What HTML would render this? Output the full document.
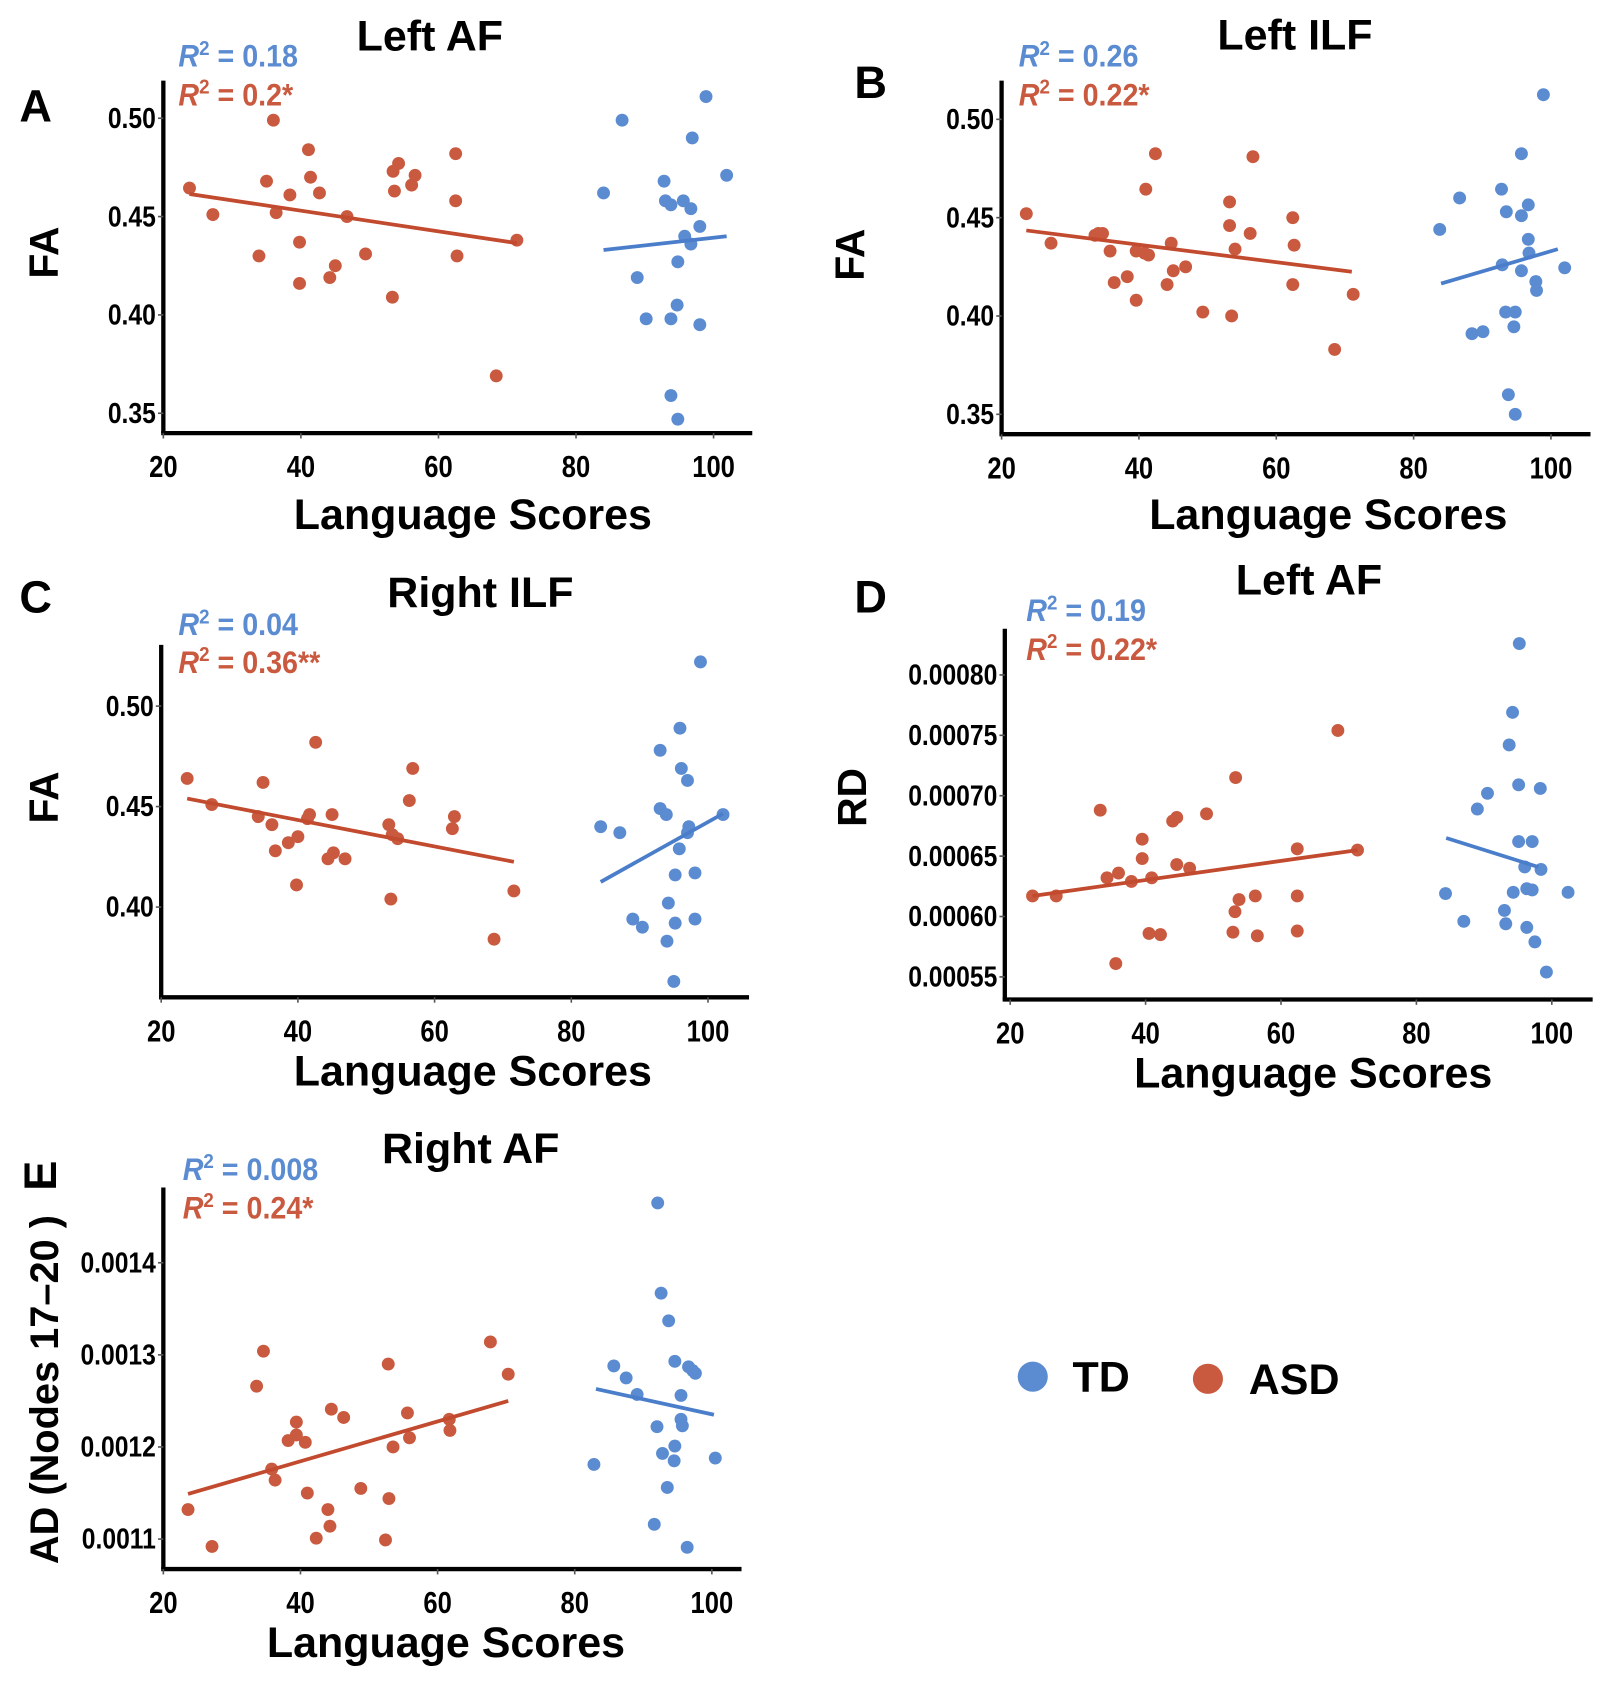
<!DOCTYPE html>
<html><head><meta charset="utf-8"><style>
html,body{margin:0;padding:0;background:#fff;}
svg{display:block;}
text{font-family:"Liberation Sans",sans-serif;font-weight:bold;}
</style></head><body>
<svg id="fig" width="1612" height="1683" viewBox="0 0 1500 1566" xmlns="http://www.w3.org/2000/svg"></svg>
<script>
// ---- Panel A: Left AF FA ----
const aAsdX=[23.8,27.2,33.9,35,36,36.4,38.4,39.8,39.8,41.1,41.4,42.7,44.2,45,46.7,49.4,53.3,53.4,53.6,54.2,56.1,56.6,62.5,62.5,62.7,68.4,71.4];
const aAsdY=[0.4645,0.451,0.430,0.468,0.499,0.452,0.461,0.437,0.416,0.484,0.470,0.462,0.419,0.425,0.450,0.431,0.409,0.473,0.463,0.477,0.466,0.471,0.482,0.458,0.430,0.369,0.438];
const aTdX=[84,86.7,88.9,90.2,92.8,93,93.8,93.8,93.8,94.8,94.8,94.7,95.6,95.8,96.7,96.9,96.7,98,98,98.9,101.9];
const aTdY=[0.462,0.499,0.419,0.398,0.468,0.458,0.456,0.398,0.359,0.347,0.427,0.405,0.458,0.440,0.454,0.490,0.436,0.445,0.395,0.511,0.471];
const aAsdFit=[23.8,0.4615,71.4,0.4365];
const aTdFit=[84,0.433,101.9,0.440];
// ---- Panel B: Left ILF FA ----
const bAsdX=[23.6,27.2,33.6,34.1,34.7,35.8,36.4,38.3,39.6,39.6,40.8,41.4,41,42.4,44.7,44.1,45,46.8,49.3,53.2,53.2,53.5,54,56.2,56.6,62.4,62.6,62.4,68.5,71.2];
const bAsdY=[0.452,0.437,0.441,0.442,0.442,0.433,0.417,0.420,0.433,0.408,0.432,0.431,0.4645,0.4825,0.437,0.416,0.423,0.425,0.402,0.458,0.446,0.400,0.434,0.442,0.481,0.450,0.436,0.416,0.383,0.411];
const bTdX=[83.8,86.7,88.5,90.1,92.8,92.9,93.5,93.4,93.8,94.8,94.6,94.8,95.7,95.7,95.7,96.7,96.7,96.8,97.8,97.9,98.9,102];
const bTdY=[0.444,0.460,0.391,0.392,0.4645,0.426,0.453,0.402,0.360,0.350,0.3945,0.402,0.4825,0.451,0.423,0.4565,0.439,0.432,0.4175,0.413,0.5125,0.4245];
const bAsdFit=[23.6,0.4435,71,0.4225];
const bTdFit=[84,0.4165,101,0.434];
// ---- Panel C: Right ILF FA ----
const cAsdX=[23.8,27.4,34.2,34.9,36.2,36.7,38.6,40,39.8,41.4,41.7,42.6,44.4,45,45.2,46.9,53.3,53.6,53.8,54.6,56.3,56.8,62.9,62.6,68.7,71.6];
const cAsdY=[0.464,0.451,0.445,0.462,0.441,0.428,0.432,0.435,0.411,0.444,0.446,0.482,0.424,0.446,0.427,0.424,0.441,0.404,0.436,0.434,0.453,0.469,0.445,0.439,0.384,0.408];
const cTdX=[84.3,87.1,89,90.4,93,93,93.9,94,94.2,95,95.2,95.2,95.8,95.9,96.1,97,97,97.2,98.1,98.1,98.9,102.2];
const cTdY=[0.440,0.437,0.394,0.390,0.478,0.449,0.446,0.383,0.402,0.363,0.392,0.416,0.429,0.489,0.469,0.463,0.437,0.440,0.394,0.417,0.522,0.446];
const cAsdFit=[23.8,0.454,71.6,0.4225];
const cTdFit=[84.3,0.4125,102.2,0.4465];
// ---- Panel D: Left AF RD ----
const dAsdX=[23.3,26.8,33.3,34.3,35.6,36,37.9,39.5,39.5,40.9,40.5,42.2,44,44.6,44.6,46.5,49,52.9,53.2,53.3,53.8,56.2,56.5,62.4,62.4,62.4,68.4,71.3];
const dAsdY=[0.000617,0.000617,0.000688,0.000632,0.000561,0.000636,0.000629,0.000648,0.000664,0.000632,0.000586,0.000585,0.000679,0.000682,0.000643,0.000640,0.000685,0.000587,0.000604,0.000715,0.000614,0.000617,0.000584,0.000656,0.000617,0.000588,0.000754,0.000655];
const dTdX=[84.3,87,89,90.5,93,93.2,93.7,94.2,94.3,95.1,95.1,95.2,96,96.3,96.3,97.1,97.1,97.5,98.3,98.4,99.2,102.4];
const dTdY=[0.000619,0.000596,0.000689,0.000702,0.000605,0.000594,0.000742,0.000769,0.000620,0.000709,0.000662,0.000826,0.000641,0.000591,0.000623,0.000662,0.000622,0.000579,0.000706,0.000639,0.000554,0.000620];
const dAsdFit=[23.3,0.000617,71.3,0.000655];
const dTdFit=[84.4,0.000665,98,0.000641];
// ---- Panel E: Right AF AD ----
const eAsdX=[23.6,27.1,33.6,34.6,35.8,36.3,38.2,39.4,39.4,40.7,41,42.3,44,44.3,44.5,46.3,48.8,52.4,52.8,52.9,53.5,55.6,55.9,61.7,61.8,67.7,70.3];
const eAsdY=[0.001132,0.001092,0.001266,0.001304,0.001176,0.001164,0.001207,0.001227,0.001213,0.001205,0.001150,0.001101,0.001132,0.001114,0.001241,0.001232,0.001155,0.001099,0.001290,0.001144,0.001200,0.001237,0.001210,0.001230,0.001218,0.001314,0.001279];
const eTdX=[82.8,85.7,87.5,89.1,91.6,92,92.1,92.6,92.8,93.5,93.7,94.5,94.6,94.6,95.5,95.5,95.7,96.4,96.6,97.2,97.6,100.5];
const eTdY=[0.001181,0.001288,0.001275,0.001257,0.001116,0.001222,0.001465,0.001367,0.001193,0.001156,0.001337,0.001185,0.001201,0.001293,0.001256,0.001230,0.001223,0.001091,0.001287,0.001283,0.001280,0.001188];
const eAsdFit=[23.6,0.001149,70.3,0.00125];
const eTdFit=[83.1,0.001263,100.3,0.001235];

const xTicks=[20,40,60,80,100];
const faTicks=[0.50,0.45,0.40,0.35];
const fcTicks=[0.50,0.45,0.40];
const rdTicks=[0.00080,0.00075,0.00070,0.00065,0.00060,0.00055];
const adTicks=[0.0014,0.0013,0.0012,0.0011];

const NS="http://www.w3.org/2000/svg";
const svg=document.getElementById('fig');
const ASD="#c95a3f", TD="#5b8bd0", ASDL="#c24a2e", TDL="#4a7ecb";
function mk(tag,attrs,parent){const e=document.createElementNS(NS,tag);for(const k in attrs)e.setAttribute(k,attrs[k]);(parent||svg).appendChild(e);return e;}

function panel(p){
  const g=mk('g',{});
  
  
  const sx=v=>p.x0+(v-20)*p.kx;
  const sy=v=>p.yRef+(p.vRef-v)*p.ky;
  const ya=mk('line',{x1:p.ax,y1:p.top,x2:p.ax,y2:p.bot,stroke:'#000','stroke-width':4},g);
  
  
  const xa=mk('line',{x1:p.ax-2,y1:p.bot,x2:p.right,y2:p.bot,stroke:'#000','stroke-width':4},g);
  
  
  xTicks.forEach(v=>{
    mk('line',{x1:sx(v),y1:p.bot,x2:sx(v),y2:p.bot+5,stroke:'#555','stroke-width':1.5},g);
    const t=mk('text',{x:0,y:0,'text-anchor':'middle','font-size':28,transform:'translate('+sx(v)+','+(p.bot+41)+') scale(0.85,1)'},g);
    t.textContent=v;
    
    
  });
  p.yTicks.forEach(v=>{
    mk('line',{x1:p.ax-5,y1:sy(v),x2:p.ax,y2:sy(v),stroke:'#555','stroke-width':1.5},g);
    const t=mk('text',{x:0,y:0,'text-anchor':'end','font-size':27,transform:'translate('+(p.ax-7)+','+(sy(v)+9)+') scale(0.85,1)'},g);
    t.textContent=v.toFixed(p.dec);
    
    
  });
  [[p.asdX,p.asdY,ASD,'asd-point'],[p.tdX,p.tdY,TD,'td-point']].forEach(([X,Y,c,n])=>{
    X.forEach((xv,i)=>{
      const c1=mk('circle',{cx:sx(xv),cy:sy(Y[i]),r:6,fill:c},g);
      
      
    });
  });
  [[p.asdFit,ASDL,'asd-fit-line'],[p.tdFit,TDL,'td-fit-line']].forEach(([f,c,n])=>{
    const l=mk('line',{x1:sx(f[0]),y1:sy(f[1]),x2:sx(f[2]),y2:sy(f[3]),stroke:c,'stroke-width':3.5},g);
    
    
  });
  const ti=mk('text',{x:p.title[1],y:p.title[2],'text-anchor':'middle','font-size':40},g);
  ti.textContent=p.title[0];
  
  
  [[p.r2[0],TD,p.r2y[0],'r2-td'],[p.r2[1],ASD,p.r2y[1],'r2-asd']].forEach(([s,c,yy,n])=>{
    const t=mk('text',{x:0,y:0,fill:c,'font-size':29,transform:'translate('+p.r2x+','+yy+') scale(0.92,1)'},g);
    
    
    t.innerHTML='<tspan font-style="italic">R</tspan><tspan font-size="19" dy="-11">2</tspan><tspan dy="11"> = '+s+'</tspan>';
  });
  const xl=mk('text',{x:p.xl[0],y:p.xl[1],'text-anchor':'middle','font-size':40},g);
  xl.textContent='Language Scores';
  
  
  const yl=mk('text',{x:0,y:0,'text-anchor':'middle','font-size':p.ylSize||38,transform:'translate('+p.yl[1]+','+p.yl[2]+') rotate(-90)'},g);
  yl.textContent=p.yl[0];
  
  
  const lt=mk('text',{x:0,y:0,'font-size':42,transform:'translate('+p.letter[1]+','+p.letter[2]+')'+(p.letterRot?' rotate(-90)':'')},g);
  lt.textContent=p.letter[0];
  
  
}

panel({id:'a',x0:152,kx:6.4,vRef:0.50,yRef:110,ky:1830,ax:152,top:75,bot:403,right:700,yTicks:faTicks,dec:2,
  asdX:aAsdX,asdY:aAsdY,tdX:aTdX,tdY:aTdY,asdFit:aAsdFit,tdFit:aTdFit,title:['Left AF',400,47],r2:['0.18','0.2*'],r2x:166,r2y:[62,98],
  xl:[440,492],yl:['FA',54,235],letter:['A',18,113]});
panel({id:'b',x0:932,kx:6.39,vRef:0.50,yRef:111,ky:1830,ax:932,top:75,bot:404,right:1480,yTicks:faTicks,dec:2,
  asdX:bAsdX,asdY:bAsdY,tdX:bTdX,tdY:bTdY,asdFit:bAsdFit,tdFit:bTdFit,title:['Left ILF',1205,46],r2:['0.26','0.22*'],r2x:948,r2y:[62,98],
  xl:[1236,492],yl:['FA',804,237],letter:['B',795,91]});
panel({id:'c',x0:150,kx:6.36,vRef:0.50,yRef:657,ky:1870,ax:150,top:600,bot:928,right:697,yTicks:fcTicks,dec:2,
  asdX:cAsdX,asdY:cAsdY,tdX:cTdX,tdY:cTdY,asdFit:cAsdFit,tdFit:cTdFit,title:['Right ILF',447,565],r2:['0.04','0.36**'],r2x:166,r2y:[591,626],
  xl:[440,1010],yl:['FA',54,742],letter:['C',18,570]});
panel({id:'d',x0:940,kx:6.3,vRef:0.00080,yRef:628,ky:1124000,ax:935,top:585,bot:930,right:1482,yTicks:rdTicks,dec:5,
  asdX:dAsdX,asdY:dAsdY,tdX:dTdX,tdY:dTdY,asdFit:dAsdFit,tdFit:dTdFit,title:['Left AF',1218,553],r2:['0.19','0.22*'],r2x:955,r2y:[578,614],
  xl:[1222,1012],yl:['RD',806,742],letter:['D',795,570]});
panel({id:'e',x0:152,kx:6.38,vRef:0.0014,yRef:1175,ky:857000,ax:152,top:1105,bot:1460,right:690,yTicks:adTicks,dec:4,
  asdX:eAsdX,asdY:eAsdY,tdX:eTdX,tdY:eTdY,asdFit:eAsdFit,tdFit:eTdFit,title:['Right AF',438,1082],r2:['0.008','0.24*'],r2x:170,r2y:[1098,1134],
  xl:[415,1542],yl:['AD (Nodes 17\u201320 )',54,1293],ylSize:37,letter:['E',52,1108],letterRot:true});

const lg=mk('g',{});


[[961,1281,TD,'TD',998,'legend-td'],[1124,1283,ASD,'ASD',1162,'legend-asd']].forEach(([cx,cy,c,lab,tx,n])=>{
  const e=mk('g',{},lg);
  
  
  mk('circle',{cx:cx,cy:cy,r:14,fill:c},e);
  const t=mk('text',{x:tx,y:cy+14,'font-size':40},e);
  t.textContent=lab;
});
</script>
</body></html>
